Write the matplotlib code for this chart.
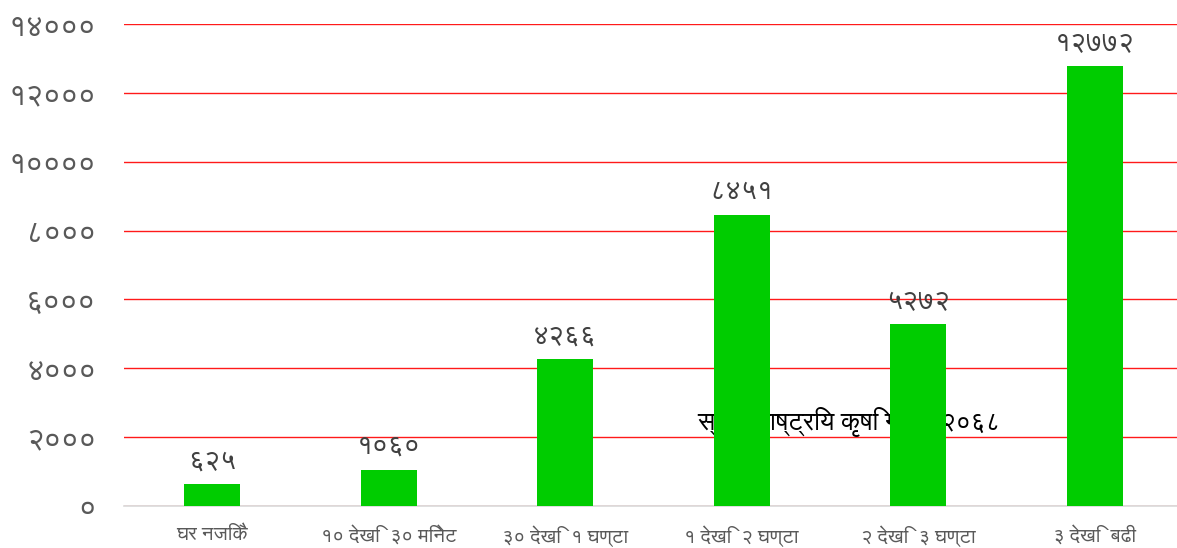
import matplotlib
matplotlib.use('Agg')
import matplotlib.pyplot as plt

# data
categories = ['घर नजिकै', '१० देखि  ३० मिनेट', '३० देखि  १ घण्टा',
              '१ देखि  २ घण्टा', '२ देखि  ३ घण्टा', '३ देखि  बढी']
values = [625, 1060, 4266, 8451, 5272, 12772]
value_labels = ['६२५', '१०६०', '४२६६', '८४५१', '५२७२', '१२७७२']
yticks = [0, 2000, 4000, 6000, 8000, 10000, 12000, 14000]
ytick_labels = ['०', '२०००', '४०००', '६०००', '८०००', '१००००', '१२०००', '१४०००']
source_text = 'स्रोत: राष्ट्रिय कृषि गणना २०६८'

plt.rcParams['font.family'] = ['FreeSans', 'DejaVu Sans']

fig = plt.figure(figsize=(11.77, 5.48), dpi=100)
ax = fig.add_axes([124 / 1177, (548 - 506) / 548, 1059 / 1177, 482 / 548])

x = list(range(len(categories)))
ax.bar(x, values, width=0.32, color='#00CC00', zorder=3)

for xi, v, lab in zip(x, values, value_labels):
    ax.annotate(lab, (xi, v), xytext=(0, 7), textcoords='offset points',
                ha='center', va='bottom', fontsize=20, color='#404040', zorder=4)

ax.set_xlim(-0.5, 5.5)
ax.set_ylim(0, 14000)
ax.set_yticks(yticks)
ax.set_yticklabels(ytick_labels, fontsize=22, color='#595959')
ax.set_xticks(x)
ax.set_xticklabels(categories, fontsize=14.5, color='#595959')
ax.tick_params(axis='both', length=0)
ax.tick_params(axis='y', pad=20)
ax.tick_params(axis='x', pad=14)

ax.yaxis.grid(True, color='#FF1A1A', linewidth=1.0, zorder=0)
ax.set_axisbelow(True)
for s in ['top', 'right', 'left']:
    ax.spines[s].set_visible(False)
ax.spines['bottom'].set_color('#D9D9D9')
ax.spines['bottom'].set_linewidth(1.2)

ax.text(3.61, 2440, source_text, ha='center', va='center',
        fontsize=18.5, color='black', zorder=2)

fig.savefig('out.png', dpi=100)
